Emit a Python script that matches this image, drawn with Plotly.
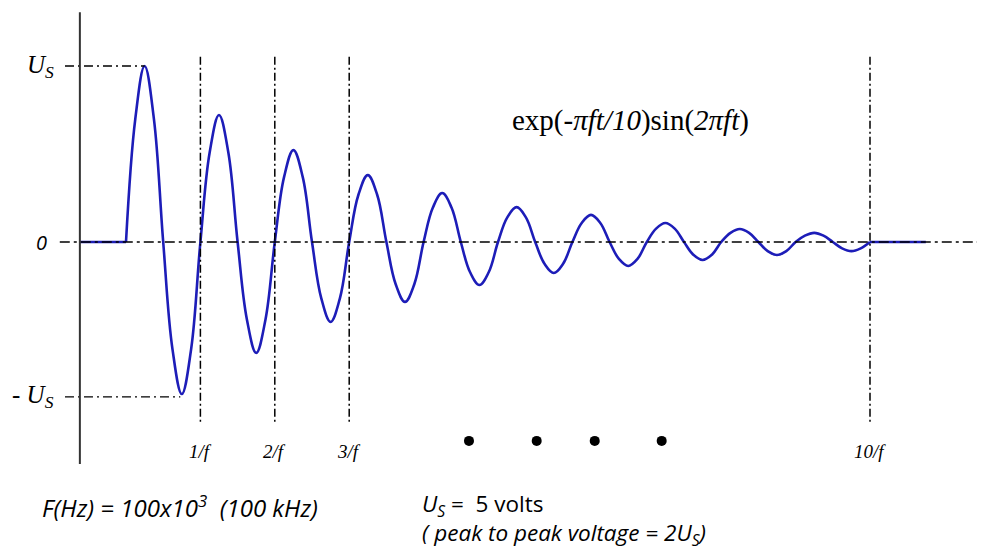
import plotly.graph_objects as go

# ---- data (time in microseconds, voltage in volts) ----
lead_t = [-6.2, 0.0]
lead_v = [0.0, 0.0]
wave_t = [0, 1.25, 2.5, 3.75, 5, 6.25, 7.5, 8.75, 10, 11.25, 12.5, 13.75, 15, 16.25, 17.5, 18.75,
          20, 21.25, 22.5, 23.75, 25, 26.25, 27.5, 28.75, 30, 31.25, 32.5, 33.75, 35, 36.25, 37.5, 38.75,
          40, 41.25, 42.5, 43.75, 45, 46.25, 47.5, 48.75, 50, 51.25, 52.5, 53.75, 55, 56.25, 57.5, 58.75,
          60, 61.25, 62.5, 63.75, 65, 66.25, 67.5, 68.75, 70, 71.25, 72.5, 73.75, 75, 76.25, 77.5, 78.75,
          80, 81.25, 82.5, 83.75, 85, 86.25, 87.5, 88.75, 90, 91.25, 92.5, 93.75, 95, 96.25, 97.5, 98.75,
          100]
wave_v = [0, 3.5, 5.0, 3.5, 0, -3.05, -4.32, -3.05, 0, 2.55, 3.61, 2.55, 0, -2.2, -3.15, -2.2,
          0, 1.85, 2.61, 1.85, 0, -1.6, -2.27, -1.6, 0, 1.35, 1.90, 1.35, 0, -1.2, -1.70, -1.2,
          0, 0.98, 1.39, 0.98, 0, -0.86, -1.22, -0.86, 0, 0.7, 0.99, 0.7, 0, -0.62, -0.88, -0.62,
          0, 0.54, 0.77, 0.54, 0, -0.48, -0.68, -0.48, 0, 0.38, 0.54, 0.38, 0, -0.36, -0.51, -0.36,
          0, 0.26, 0.37, 0.26, 0, -0.26, -0.37, -0.26, 0, 0.18, 0.26, 0.18, 0, -0.18, -0.26, -0.18,
          0]
tail_t = [100, 107.5]
tail_v = [0.0, 0.0]

period_marks_t = [10, 20, 30, 100]
period_labels = ["1/f", "2/f", "3/f", "10/f"]
u_s_level = 5.0
neg_u_s_level = -4.40
u_s_peak_t = 2.5
neg_u_s_trough_t = 7.3
dots_t = [46.1, 55.2, 63.0, 72.0]
dots_v = [-5.65, -5.65, -5.65, -5.65]

# page has an 8px body margin: figure occupies reference pixels 8..985 / 8..551
OFF = 8
W, H = 985 - OFF, 551 - OFF
X0_PX, PX_PER_US = 126.0 - OFF, 7.44
Y0_PX, PX_PER_V = 242.0 - OFF, 35.2
x_range = [-X0_PX / PX_PER_US, (W - X0_PX) / PX_PER_US]
y_range = [-(H - Y0_PX) / PX_PER_V, Y0_PX / PX_PER_V]


def px(x):
    return (x - OFF) / W


def py(y):
    return 1 - (y - OFF) / H


axis_t = lead_t[0]
BLUE = "#1d1db8"
fig = go.Figure()
fig.add_trace(go.Scatter(x=lead_t, y=lead_v, mode="lines",
                         line=dict(color=BLUE, width=2.6), hoverinfo="skip"))
fig.add_trace(go.Scatter(x=wave_t, y=wave_v, mode="lines",
                         line=dict(color=BLUE, width=2.6, shape="spline", smoothing=1.1),
                         hoverinfo="skip"))
fig.add_trace(go.Scatter(x=tail_t, y=tail_v, mode="lines",
                         line=dict(color=BLUE, width=2.6), hoverinfo="skip"))
fig.add_trace(go.Scatter(x=dots_t, y=dots_v, mode="markers",
                         marker=dict(color="black", size=10), hoverinfo="skip"))

DD = "9px,4px,2px,4px"
shapes = []
# zero line
shapes.append(dict(type="line", x0=axis_t - 2.7, x1=x_range[1], y0=0, y1=0,
                   line=dict(color="black", width=1.5, dash="10px,4px,3px,4px")))
# U_S and -U_S reference lines
shapes.append(dict(type="line", x0=axis_t - 2.0, x1=u_s_peak_t, y0=u_s_level, y1=u_s_level,
                   line=dict(color="black", width=1.3, dash=DD)))
shapes.append(dict(type="line", x0=axis_t - 2.0, x1=neg_u_s_trough_t, y0=neg_u_s_level, y1=neg_u_s_level,
                   line=dict(color="black", width=1.3, dash=DD)))
# period lines
for t in period_marks_t:
    shapes.append(dict(type="line", x0=t, x1=t, y0=5.26, y1=-5.14,
                       line=dict(color="black", width=1.5, dash="8px,3px,2px,3px")))
# vertical axis
shapes.append(dict(type="line", x0=axis_t, x1=axis_t, y0=6.53, y1=-6.31,
                   line=dict(color="#333333", width=2)))

ann = []
SERIF = "Liberation Serif"
SANS = "Open Sans"
ann.append(dict(x=axis_t - 3.2, y=u_s_level, xanchor="right", yanchor="middle",
                text="<i>U</i><sub><i>S</i></sub>", font=dict(family=SERIF, size=25, color="black")))
ann.append(dict(x=axis_t - 3.2, y=neg_u_s_level, xanchor="right", yanchor="middle",
                text="- <i>U</i><sub><i>S</i></sub>", font=dict(family=SERIF, size=25, color="black")))
ann.append(dict(x=axis_t - 4.2, y=0, xanchor="right", yanchor="middle",
                text="<i>0</i>", font=dict(family=SANS, size=20, color="black")))
for t, lab in zip(period_marks_t, period_labels):
    ann.append(dict(x=t, y=-5.96, xanchor="center", yanchor="middle",
                    text="<i>" + lab + "</i>", font=dict(family=SERIF, size=19, color="black")))
ann.append(dict(x=67.8, y=3.45, xanchor="center", yanchor="middle",
                text="exp(<i>-πft/10</i>)sin(<i>2πft</i>)",
                font=dict(family=SERIF, size=29, color="black")))
ann.append(dict(xref="paper", yref="paper", x=px(40), y=py(506), xanchor="left", yanchor="middle",
                text="<i>F(Hz) = 100x10<sup>3</sup>  (100 kHz)</i>",
                font=dict(family=SANS, size=24, color="black")))
ann.append(dict(xref="paper", yref="paper", x=px(420), y=py(519), xanchor="left", yanchor="middle",
                align="left",
                text="<i>U<sub>S</sub></i> =  5 volts<br><i>( peak to peak voltage = 2U<sub>S</sub>)</i>",
                font=dict(family=SANS, size=22.5, color="black")))
for a in ann:
    a.setdefault("xref", "x")
    a.setdefault("yref", "y")
    a["showarrow"] = False

fig.update_layout(width=W, height=H, autosize=False, margin=dict(l=0, r=0, t=0, b=0),
                  paper_bgcolor="white", plot_bgcolor="white", showlegend=False,
                  shapes=shapes, annotations=ann,
                  xaxis=dict(visible=False, range=x_range, fixedrange=True),
                  yaxis=dict(visible=False, range=y_range, fixedrange=True))
fig.write_html("out.html", config={"displayModeBar": False})
